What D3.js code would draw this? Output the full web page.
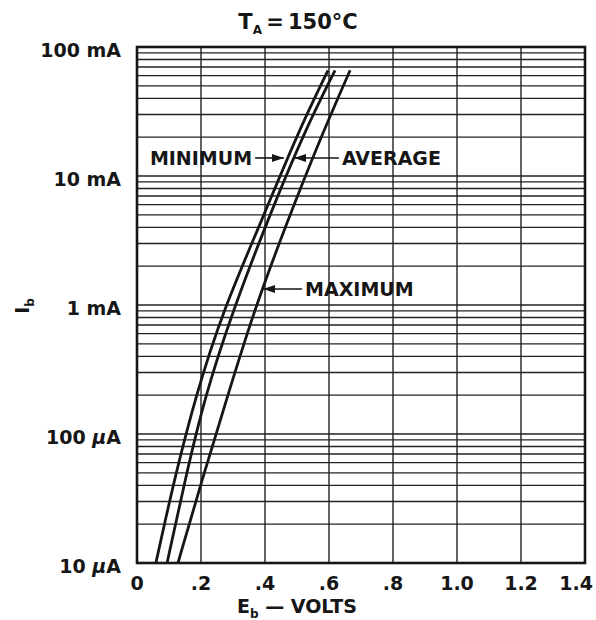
<!DOCTYPE html>
<html>
<head>
<meta charset="utf-8">
<script src="https://cdn.jsdelivr.net/npm/d3@7"></script>
<style>
body { margin: 0; background: #fff; }
svg text { font-family: "DejaVu Sans", sans-serif; font-weight: bold; fill: #161616; }
</style>
</head>
<body>
<div id="chart"></div>
<script>
// x axis: Eb in volts
var xTicks = [0, 0.2, 0.4, 0.6, 0.8, 1.0, 1.2, 1.4];
var xTickLabels = ["0", ".2", ".4", ".6", ".8", "1.0", "1.2", "1.4"];
// y axis: Ib in mA (log)
var yDecades = [100, 10, 1, 0.1, 0.01];
var yDecadeUnits = [["100 ", "mA"], ["10 ", "mA"], ["1 ", "mA"], ["100 ", "\u03bcA"], ["10 ", "\u03bcA"]];

// curve points
var currents = [66, 21, 4.4, 0.91, 0.2, 0.044, 0.01]; // mA
var minimumVolts = [0.597, 0.500, 0.388, 0.269, 0.184, 0.116, 0.059];
var averageVolts = [0.619, 0.519, 0.406, 0.300, 0.213, 0.150, 0.094];
var maximumVolts = [0.666, 0.578, 0.469, 0.366, 0.284, 0.203, 0.128];

// callouts: label, current, arrow tip / tail in volts, which side the text sits
var callouts = [
    { text: "MINIMUM", current: 13.8, tip: 0.459, tail: 0.369, side: "left" },
    { text: "AVERAGE", current: 13.8, tip: 0.491, tail: 0.631, side: "right" },
    { text: "MAXIMUM", current: 1.33, tip: 0.394, tail: 0.516, side: "right" }
];

var W = 596, H = 620;
var x = d3.scaleLinear().domain([0, 1.4]).range([137, 585]);
var y = d3.scaleLog().domain([0.01, 100]).range([563, 47]);

var svg = d3.select("#chart").append("svg")
    .attr("width", W)
    .attr("height", H);

svg.append("defs").append("marker")
    .attr("id", "head")
    .attr("viewBox", "0 0 12 8")
    .attr("refX", 12).attr("refY", 4)
    .attr("markerWidth", 12).attr("markerHeight", 8)
    .attr("markerUnits", "userSpaceOnUse")
    .attr("orient", "auto")
    .append("path")
    .attr("d", "M0,0L12,4L0,8Z")
    .attr("fill", "#161616");

// grid
var grid = svg.append("g").attr("stroke", "#222").attr("stroke-width", 1.4);
grid.selectAll("line.h").data(y.ticks()).enter().append("line")
    .attr("class", "h")
    .attr("x1", x.range()[0]).attr("x2", x.range()[1])
    .attr("y1", function(d) { return y(d); })
    .attr("y2", function(d) { return y(d); });
grid.selectAll("line.v").data(xTicks).enter().append("line")
    .attr("class", "v")
    .attr("x1", function(d) { return x(d); })
    .attr("x2", function(d) { return x(d); })
    .attr("y1", y.range()[0]).attr("y2", y.range()[1]);

svg.append("rect")
    .attr("x", x.range()[0]).attr("y", y.range()[1])
    .attr("width", x.range()[1] - x.range()[0])
    .attr("height", y.range()[0] - y.range()[1])
    .attr("fill", "none").attr("stroke", "#161616").attr("stroke-width", 2.6);

// curves
var line = d3.line()
    .x(function(d) { return x(d.v); })
    .y(function(d) { return y(d.i); })
    .curve(d3.curveBasis);

[minimumVolts, averageVolts, maximumVolts].forEach(function(vs) {
    var pts = vs.map(function(v, k) { return { v: v, i: currents[k] }; });
    svg.append("path")
        .datum(pts)
        .attr("d", line)
        .attr("fill", "none")
        .attr("stroke", "#161616")
        .attr("stroke-width", 2.8);
});

// tick labels
svg.selectAll("text.xt").data(xTicks).enter().append("text")
    .attr("class", "xt")
    .attr("x", function(d, k) { return k === xTicks.length - 1 ? 593 : x(d); })
    .attr("y", 590)
    .attr("text-anchor", function(d, k) { return k === xTicks.length - 1 ? "end" : "middle"; })
    .style("font-size", "19px")
    .text(function(d, k) { return xTickLabels[k]; });

var yt = svg.selectAll("text.yt").data(yDecades).enter().append("text")
    .attr("class", "yt")
    .attr("x", 121)
    .attr("y", function(d) { return y(d) + 10; })
    .attr("text-anchor", "end")
    .style("font-size", "19px");
yt.append("tspan").text(function(d, k) { return yDecadeUnits[k][0]; });
yt.append("tspan")
    .style("font-style", function(d, k) { return yDecadeUnits[k][1].charAt(0) === "\u03bc" ? "italic" : "normal"; })
    .text(function(d, k) { return yDecadeUnits[k][1].charAt(0); });
yt.append("tspan").text(function(d, k) { return yDecadeUnits[k][1].slice(1); });

// titles
var title = svg.append("text")
    .attr("x", 298).attr("y", 29)
    .attr("text-anchor", "middle")
    .style("font-size", "21px");
title.append("tspan").text("T");
title.append("tspan").attr("dy", 5).style("font-size", "12px").text("A");
title.append("tspan").attr("dy", -5).text("\u2009=\u2009150\u00b0C");

var xTitle = svg.append("text")
    .attr("x", 297).attr("y", 613)
    .attr("text-anchor", "middle")
    .style("font-size", "19px");
xTitle.append("tspan").text("E");
xTitle.append("tspan").attr("dy", 5).style("font-size", "12px").text("b");
xTitle.append("tspan").attr("dy", -5).text(" \u2014 VOLTS");

var yTitle = svg.append("text")
    .attr("transform", "translate(29,306) rotate(-90)")
    .attr("text-anchor", "middle")
    .style("font-size", "19px");
yTitle.append("tspan").text("I");
yTitle.append("tspan").attr("dy", 5).style("font-size", "12px").text("b");

// callouts
callouts.forEach(function(c) {
    var cy = y(c.current);
    svg.append("line")
        .attr("x1", x(c.tail)).attr("x2", x(c.tip))
        .attr("y1", cy).attr("y2", cy)
        .attr("stroke", "#161616").attr("stroke-width", 1.6)
        .attr("marker-end", "url(#head)");
    svg.append("text")
        .attr("x", c.side === "left" ? x(c.tail) - 3 : x(c.tail) + 3)
        .attr("y", cy + 7)
        .attr("text-anchor", c.side === "left" ? "end" : "start")
        .style("font-size", "19px")
        .text(c.text);
});
</script>
</body>
</html>
